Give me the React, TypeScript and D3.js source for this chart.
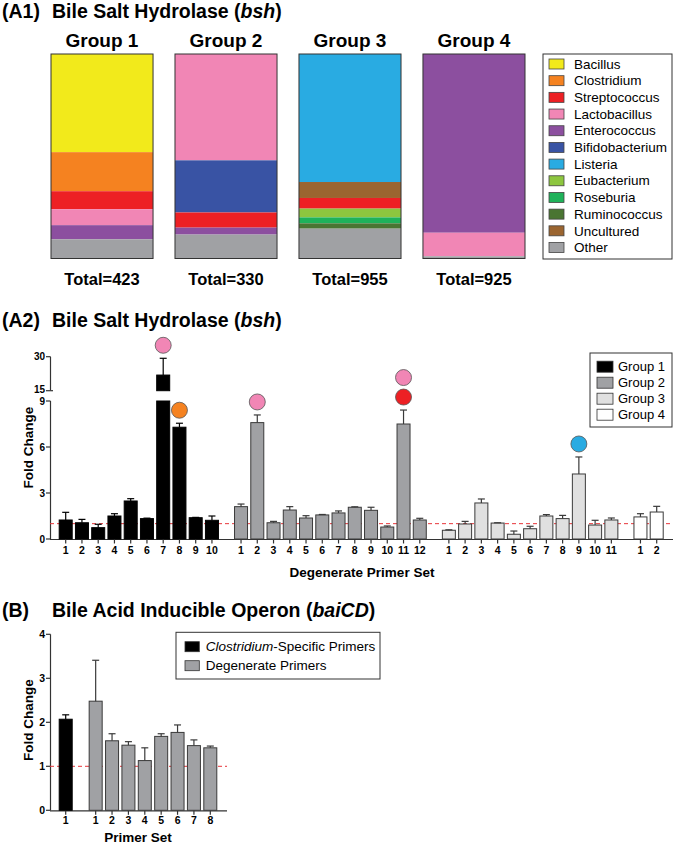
import React from "react";
import * as d3 from "d3";

const FONT = "'Liberation Sans', Arial, Helvetica, sans-serif";

// ---------- A1 data ----------
const genera = [
  "Bacillus", "Clostridium", "Streptococcus", "Lactobacillus", "Enterococcus", "Bifidobacterium",
  "Listeria", "Eubacterium", "Roseburia", "Ruminococcus", "Uncultured", "Other",
];
const genusColors = [
  "#f2ea1b", "#f58220", "#ed2024", "#f186b5", "#8c4f9f", "#3953a4",
  "#29abe2", "#8dc63f", "#1fb25a", "#4a7532", "#9b6530", "#a0a1a4",
];
const groupNames = ["Group 1", "Group 2", "Group 3", "Group 4"];
const groupTotals = [423, 330, 955, 925];
// top-to-bottom order within each stacked bar, percent share
const group1Genera = ["Bacillus", "Clostridium", "Streptococcus", "Lactobacillus", "Enterococcus", "Other"];
const group1Share = [48.0, 19.1, 8.8, 7.8, 6.9, 9.4];
const group2Genera = ["Lactobacillus", "Bifidobacterium", "Streptococcus", "Enterococcus", "Other"];
const group2Share = [52.0, 25.5, 7.4, 3.4, 11.7];
const group3Genera = ["Listeria", "Uncultured", "Streptococcus", "Eubacterium", "Roseburia", "Ruminococcus", "Other"];
const group3Share = [62.6, 7.8, 5.2, 4.3, 2.9, 2.6, 14.6];
const group4Genera = ["Enterococcus", "Lactobacillus", "Other"];
const group4Share = [87.4, 11.5, 1.1];

// ---------- A2 data ----------
const bshG1Mean = [1.24, 1.06, 0.74, 1.5, 2.48, 1.33, 21.9, 7.29, 1.39, 1.22];
const bshG1Sem = [0.5, 0.22, 0.22, 0.15, 0.15, 0.03, 7.4, 0.26, 0.02, 0.28];
const bshG2Mean = [2.11, 7.59, 1.06, 1.89, 1.37, 1.57, 1.7, 2.07, 1.87, 0.78, 7.5, 1.24];
const bshG2Sem = [0.17, 0.5, 0.09, 0.22, 0.15, 0.03, 0.13, 0.03, 0.2, 0.07, 0.91, 0.11];
const bshG3Mean = [0.57, 0.98, 2.35, 1.04, 0.31, 0.67, 1.5, 1.33, 4.24, 0.91, 1.24];
const bshG3Sem = [0.03, 0.17, 0.26, 0.02, 0.21, 0.16, 0.09, 0.21, 1.11, 0.31, 0.13];
const bshG4Mean = [1.44, 1.76];
const bshG4Sem = [0.21, 0.37];
const bshGroupFills = ["#000000", "#a0a1a4", "#e0e0e0", "#ffffff"];
const bshLowerTicks = [0, 3, 6, 9];
const bshUpperTicks = [15, 30];
// genus markers above bars (group, primer set, genus), stacked bottom-up in order
const markerGroup = [1, 1, 2, 2, 2, 3];
const markerBar = [7, 8, 2, 11, 11, 9];
const markerGenus = ["Lactobacillus", "Clostridium", "Lactobacillus", "Streptococcus", "Lactobacillus", "Listeria"];

// ---------- B data ----------
const baiClostMean = [2.07];
const baiClostSem = [0.1];
const baiDegMean = [2.48, 1.58, 1.48, 1.13, 1.68, 1.77, 1.47, 1.42];
const baiDegSem = [0.93, 0.16, 0.08, 0.29, 0.06, 0.17, 0.13, 0.04];
const baiTicks = [0, 1, 2, 3, 4];

const colorOf = (g: string) => genusColors[genera.indexOf(g)];

function Title({ y, prefix, parts }: { y: number; prefix: string; parts: [string, boolean][] }) {
  return (
    <g fontFamily={FONT} fontWeight="bold" fontSize={19.5}>
      <text x={2} y={y}>{prefix}</text>
      <text x={52} y={y}>
        {parts.map(([t, it], i) => (
          <tspan key={i} fontStyle={it ? "italic" : "normal"}>{t}</tspan>
        ))}
      </text>
    </g>
  );
}

function ErrorBar({ x, y0, y1, color }: { x: number; y0: number; y1: number; color: string }) {
  return (
    <g stroke={color} strokeWidth={1.2}>
      <line x1={x} x2={x} y1={y0} y2={y1} />
      <line x1={x - 3.5} x2={x + 3.5} y1={y1} y2={y1} />
    </g>
  );
}

export default function App() {
  // ===== A1 =====
  const stackX = d3.scaleBand<string>().domain(groupNames).range([51, 525]).paddingInner(0.177).paddingOuter(0);
  const stackY = d3.scaleLinear().domain([0, 100]).range([54, 258.5]);
  const stackSets = [
    [group1Genera, group1Share],
    [group2Genera, group2Share],
    [group3Genera, group3Share],
    [group4Genera, group4Share],
  ] as [string[], number[]][];

  const legendY = d3.scalePoint<string>().domain(genera).range([64, 247.5]);

  // ===== A2 =====
  const groupsMean = [bshG1Mean, bshG2Mean, bshG3Mean, bshG4Mean];
  const groupsSem = [bshG1Sem, bshG2Sem, bshG3Sem, bshG4Sem];
  const gap = 0.79;
  const slots: number[][] = [];
  let s = 0;
  groupsMean.forEach((m) => {
    slots.push(m.map((_, j) => s + j));
    s += m.length + gap;
  });
  const maxSlot = s - gap - 1;
  const ax = d3.scaleLinear().domain([0, maxSlot]).range([65.7, 656.7]);
  const lowerY = d3.scaleLinear().domain([0, 9]).range([539, 401]);
  const upperY = d3.scaleLinear().domain([15, 30]).range([390.7, 356.7]);
  const yVal = (v: number) => (v <= 9 ? lowerY(v) : upperY(Math.max(v, 15)));
  const bw = 13;

  const markerCounts: Record<string, number> = {};

  // ===== B =====
  const bSlots = [0, ...baiDegMean.map((_, i) => 1 + 0.83 + i)];
  const bx = d3.scaleLinear().domain([0, 8.83]).range([65.7, 210.3]);
  const by = d3.scaleLinear().domain([0, 4]).range([810.3, 634.3]);
  const bMeans = [...baiClostMean, ...baiDegMean];
  const bSems = [...baiClostSem, ...baiDegSem];
  const bLabels = [1, ...baiDegMean.map((_, i) => i + 1)];

  return (
    <svg width={675} height={843} style={{ position: "absolute", left: 0, top: 0, background: "#fff" }}>
      <rect width={675} height={843} fill="#fff" />

      {/* ================= A1 ================= */}
      <Title y={17.5} prefix="(A1)" parts={[["Bile Salt Hydrolase (", false], ["bsh", true], [")", false]]} />
      {stackSets.map(([gs, vals], gi) => {
        const x0 = stackX(groupNames[gi])!;
        const w = stackX.bandwidth();
        let cum = 0;
        return (
          <g key={gi}>
            <text x={x0 + w / 2} y={47} textAnchor="middle" fontFamily={FONT} fontWeight="bold" fontSize={19}>
              {groupNames[gi]}
            </text>
            {gs.map((g, k) => {
              const y0 = stackY(cum);
              cum += vals[k];
              const y1 = stackY(cum);
              return <rect key={k} x={x0} y={y0} width={w} height={y1 - y0} fill={colorOf(g)} />;
            })}
            <rect x={x0} y={stackY(0)} width={w} height={stackY(100) - stackY(0)} fill="none" stroke="#333" strokeWidth={1} />
            <text x={x0 + w / 2} y={285} textAnchor="middle" fontFamily={FONT} fontWeight="bold" fontSize={16.5}>
              {`Total=${groupTotals[gi]}`}
            </text>
          </g>
        );
      })}
      <rect x={543} y={54} width={129} height={205} fill="#fff" stroke="#333" strokeWidth={1} />
      {genera.map((g, i) => (
        <g key={g}>
          <rect x={549} y={legendY(g)! - 5} width={15} height={10} fill={genusColors[i]} stroke="#444" strokeWidth={0.8} />
          <text x={574} y={legendY(g)! + 4.7} fontFamily={FONT} fontSize={13.5}>{g}</text>
        </g>
      ))}

      {/* ================= A2 ================= */}
      <Title y={327} prefix="(A2)" parts={[["Bile Salt Hydrolase (", false], ["bsh", true], [")", false]]} />
      {/* y axis (broken) */}
      <g stroke="#333" strokeWidth={1.2}>
        <line x1={50.5} x2={50.5} y1={lowerY(0)} y2={lowerY(9)} />
        <line x1={50.5} x2={50.5} y1={upperY(15)} y2={upperY(30)} />
        {bshLowerTicks.map((t) => (
          <line key={t} x1={46} x2={50.5} y1={lowerY(t)} y2={lowerY(t)} />
        ))}
        {bshUpperTicks.map((t) => (
          <line key={t} x1={46} x2={50.5} y1={upperY(t)} y2={upperY(t)} />
        ))}
        <line x1={50.5} x2={53} y1={upperY(15)} y2={upperY(15)} />
      </g>
      <g fontFamily={FONT} fontWeight="bold" fontSize={10} textAnchor="end">
        {bshLowerTicks.map((t) => (
          <text key={t} x={45} y={lowerY(t) + 3.6 + (t === 9 ? 0.8 : 0)}>{t}</text>
        ))}
        {bshUpperTicks.map((t) => (
          <text key={t} x={45} y={upperY(t) + 3.6 - (t === 15 ? 1.2 : 0)}>{t}</text>
        ))}
      </g>
      <text transform={`translate(32.5,447.5) rotate(-90)`} textAnchor="middle" fontFamily={FONT} fontWeight="bold" fontSize={13.5}>
        Fold  Change
      </text>
      {/* x axis */}
      <line x1={50} x2={673} y1={539.5} y2={539.5} stroke="#333" strokeWidth={1.2} />
      <line x1={50} x2={673} y1={lowerY(1)} y2={lowerY(1)} stroke="#e8353a" strokeWidth={1} strokeDasharray="4,3" />
      {groupsMean.map((means, gi) =>
        means.map((m, j) => {
          const cx = ax(slots[gi][j]);
          const top = m + groupsSem[gi][j];
          const fill = bshGroupFills[gi];
          const stroke = gi === 0 ? "#000" : "#3a3a3a";
          return (
            <g key={`${gi}-${j}`}>
              {m > 9 ? (
                <>
                  <rect x={cx - bw / 2} y={lowerY(9)} width={bw} height={lowerY(0) - lowerY(9)} fill={fill} stroke={stroke} strokeWidth={1} />
                  <rect x={cx - bw / 2} y={upperY(m)} width={bw} height={upperY(15) - upperY(m)} fill={fill} stroke={stroke} strokeWidth={1} />
                </>
              ) : (
                <rect x={cx - bw / 2} y={lowerY(m)} width={bw} height={lowerY(0) - lowerY(m)} fill={fill} stroke={stroke} strokeWidth={1} />
              )}
              <ErrorBar x={cx} y0={yVal(m)} y1={yVal(top)} color={stroke} />
              <line x1={cx} x2={cx} y1={539.5} y2={543.5} stroke="#333" strokeWidth={1.2} />
              <text x={cx} y={554} textAnchor="middle" fontFamily={FONT} fontWeight="bold" fontSize={10.5}>{j + 1}</text>
            </g>
          );
        })
      )}
      {markerGroup.map((g, i) => {
        const j = markerBar[i] - 1;
        const key = `${g}-${j}`;
        const k = markerCounts[key] ?? 0;
        markerCounts[key] = k + 1;
        const top = groupsMean[g - 1][j] + groupsSem[g - 1][j];
        const cx = ax(slots[g - 1][j]);
        const cy = yVal(top) - 13 - k * 19.5;
        return <circle key={i} cx={cx} cy={cy} r={8} fill={colorOf(markerGenus[i])} stroke="#555" strokeWidth={0.8} />;
      })}
      <text x={362} y={576.5} textAnchor="middle" fontFamily={FONT} fontWeight="bold" fontSize={13.5}>
        Degenerate Primer Set
      </text>
      {/* legend */}
      <rect x={590} y={353} width={82} height={74} fill="#fff" stroke="#333" strokeWidth={1} />
      {groupNames.map((g, i) => (
        <g key={g}>
          <rect x={597} y={366.7 + i * 16 - 5.5} width={16} height={11} fill={bshGroupFills[i]} stroke="#333" strokeWidth={0.8} />
          <text x={618} y={366.7 + i * 16 + 4.6} fontFamily={FONT} fontSize={13}>{g}</text>
        </g>
      ))}

      {/* ================= B ================= */}
      <Title y={617} prefix="(B)" parts={[["Bile Acid Inducible Operon (", false], ["baiCD", true], [")", false]]} />
      <g stroke="#333" strokeWidth={1.2}>
        <line x1={50.5} x2={50.5} y1={by(0)} y2={by(4)} />
        {baiTicks.map((t) => (
          <line key={t} x1={46} x2={50.5} y1={by(t)} y2={by(t)} />
        ))}
      </g>
      <g fontFamily={FONT} fontWeight="bold" fontSize={10.5} textAnchor="end">
        {baiTicks.map((t) => (
          <text key={t} x={45} y={by(t) + 3.8}>{t}</text>
        ))}
      </g>
      <text transform={`translate(32.5,720) rotate(-90)`} textAnchor="middle" fontFamily={FONT} fontWeight="bold" fontSize={13.5}>
        Fold  Change
      </text>
      <line x1={50} x2={227} y1={810.8} y2={810.8} stroke="#333" strokeWidth={1.2} />
      <line x1={50} x2={227} y1={by(1)} y2={by(1)} stroke="#e8353a" strokeWidth={1} strokeDasharray="4,3" />
      {bMeans.map((m, i) => {
        const cx = bx(bSlots[i]);
        const fill = i === 0 ? "#000" : "#a0a1a4";
        const stroke = i === 0 ? "#000" : "#3a3a3a";
        return (
          <g key={i}>
            <rect x={cx - bw / 2} y={by(m)} width={bw} height={by(0) - by(m)} fill={fill} stroke={stroke} strokeWidth={1} />
            <ErrorBar x={cx} y0={by(m)} y1={by(m + bSems[i])} color={stroke} />
            <line x1={cx} x2={cx} y1={810.8} y2={814.8} stroke="#333" strokeWidth={1.2} />
            <text x={cx} y={824} textAnchor="middle" fontFamily={FONT} fontWeight="bold" fontSize={10.5}>{bLabels[i]}</text>
          </g>
        );
      })}
      <text x={138} y={841.5} textAnchor="middle" fontFamily={FONT} fontWeight="bold" fontSize={13.5}>
        Primer Set
      </text>
      <rect x={176} y={632.3} width={204} height={46.7} fill="#fff" stroke="#333" strokeWidth={1} />
      <rect x={185} y={646.7 - 5} width={14.3} height={10} fill="#000" stroke="#333" strokeWidth={0.8} />
      <text x={205.7} y={646.7 + 4.7} fontFamily={FONT} fontSize={13.5}>
        <tspan fontStyle="italic">Clostridium</tspan>-Specific Primers
      </text>
      <rect x={185} y={665.7 - 5} width={14.3} height={10} fill="#a0a1a4" stroke="#333" strokeWidth={0.8} />
      <text x={205.7} y={665.7 + 4.7} fontFamily={FONT} fontSize={13.5}>Degenerate Primers</text>
    </svg>
  );
}
